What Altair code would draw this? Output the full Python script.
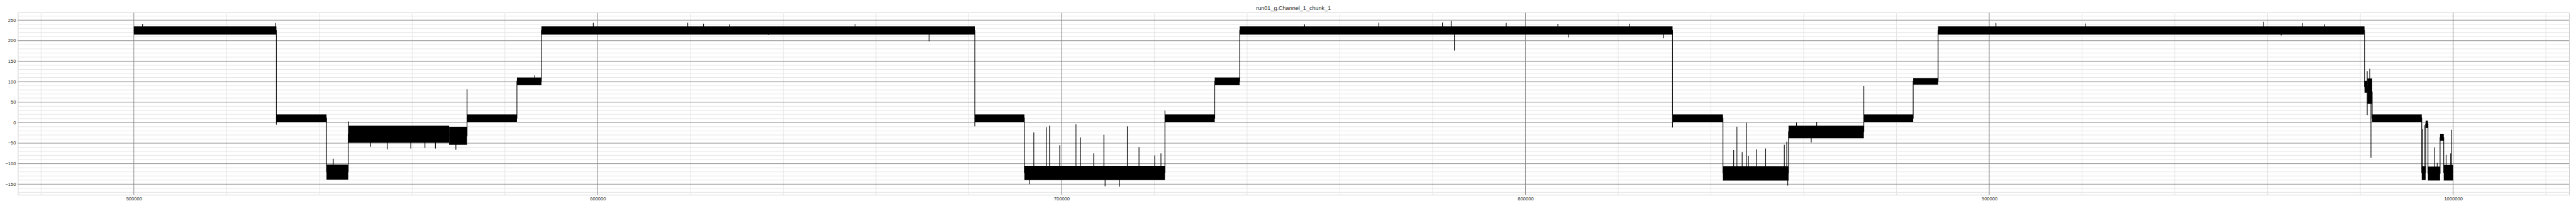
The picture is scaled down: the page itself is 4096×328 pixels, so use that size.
import altair as alt
import pandas as pd

# ---- segments of the signal (sample index, level band) ----
seg_start = [500000, 530730, 541540, 546220, 567970, 571840, 582590, 587870, 681300, 691990,
             722290, 733030, 738410, 831720, 842590, 856730, 872960, 883600, 888970, 980900,
             981500, 982550, 993240, 994070, 994580, 997190, 997980]
seg_end = [530730, 541540, 546220, 567970, 571840, 582590, 587870, 681300, 691990, 722290,
           733030, 738410, 831720, 842590, 856730, 872960, 883600, 888970, 980900, 981500,
           982550, 993240, 994070, 994580, 997190, 997980, 1000000]
seg_lo = [215, 2, -139, -49, -54, 2, 92, 215, 2, -140,
          2, 92, 215, 2, -141, -38, 2, 93, 215, 73,
          46, 2, -140, -13, -141, -44, -141]
seg_hi = [235, 20, -102, -7, -10, 20, 110, 235, 20, -105,
          20, 110, 235, 20, -106, -7, 20, 109, 235, 102,
          108, 20, -106, 5, -107, -27, -103]
seg_mid = [225, 11, -120, -28, -32, 11, 101, 225, 11, -122,
           11, 101, 225, 11, -123, -22, 11, 101, 225, 88,
           75, 11, -122, -3, -124, -36, -122]

# ---- isolated spikes (sample index, tip value, base level) ----
spike_x = [501880, 530520, 530730, 543000, 546300, 551050, 554650, 559700, 562760, 565020,
           569430, 571840, 586430, 599050, 619420, 622810, 628390, 636830, 655480, 671440,
           681300, 693110, 694020, 696770, 697410, 699610, 703110, 704130, 706930, 709130,
           709390, 712510, 714180, 716700, 720090, 721430, 722290, 752400, 768410, 782120,
           784000, 784700, 795870, 807000, 809260, 822420, 829790, 831720, 844900, 845600,
           846730, 847650, 848080, 849800, 851790, 855820, 856350, 856560, 858440, 861620,
           862800, 872960, 901440, 920700, 959120, 962930, 967510, 972280, 981480, 981480,
           982020, 982290, 993420, 993760, 995950, 996570, 998490, 999480, 999650]
spike_tip = [240.7, 243, -5, -88, 3, -59, -65, -63, -61.6, -63,
             -66, 81.4, 116, 243.8, 243.8, 241.5, 240, 213.6, 240.7, 198.4,
             -9, -150, -23.6, -10.8, -7, -55, -3.5, -36, -75, -29.5,
             -155, -156, -9, -59.6, -80, -75, 29.8, 240, 243.8, 244.6,
             248.4, 176, 243.4, 241, 208, 241.5, 205.8, -11.6, -67, -9.7,
             -72, 0, -80.6, -65, -63, -54, -46, -153.5, 0.8, -48,
             2, 89.5, 243, 242, 246, 212.8, 243, 240, 125.6, 18.5,
             131.4, -85.6, -15, -6, -60.5, -98, -78.7, -75, -17.4]
spike_base = [225, 225, 11, -120, -28, -28, -28, -28, -28, -28,
              -32, 11, 101, 225, 225, 225, 225, 225, 225, 225,
              11, -122, -122, -122, -122, -122, -122, -122, -122, -122,
              -122, -122, -122, -122, -122, -122, 11, 225, 225, 225,
              225, 225, 225, 225, 225, 225, 225, 11, -123, -123,
              -123, -123, -123, -123, -123, -123, -123, -123, -22, -22,
              -22, 11, 225, 225, 225, 225, 225, 225, 75, 75,
              75, 75, -122, -122, -122, -122, -122, -122, -122]

# ---- ticks / grid ----
x_major = [500000, 600000, 700000, 800000, 900000, 1000000]
x_minor = [480000, 520000, 540000, 560000, 580000, 620000, 640000, 660000, 680000,
           720000, 740000, 760000, 780000, 820000, 840000, 860000, 880000,
           920000, 940000, 960000, 980000, 1020000]
y_major = [-150, -100, -50, 0, 50, 100, 150, 200, 250]
y_minor = [-170, -160, -140, -130, -120, -110, -90, -80, -70, -60, -40, -30, -20, -10,
           10, 20, 30, 40, 60, 70, 80, 90, 110, 120, 130, 140, 160, 170, 180, 190,
           210, 220, 230, 240, 260]

TITLE = "run01_g.Channel_1_chunk_1"

S = 0.758
FONT = "Liberation Sans"
W, H = 4057, 290

xscale = alt.Scale(domain=[475000, 1025000], nice=False, zero=False)
yscale = alt.Scale(domain=[-175.6, 268.6], nice=False, zero=False)

xaxis = alt.Axis(values=x_major, format="d", title=None, grid=False, ticks=False,
                 domain=False, labelFontSize=10 * S, labelFont=FONT,
                 labelColor="#262626", labelPadding=3.5 * S, labelFlush=False)
yaxis = alt.Axis(values=y_major, format="d", title=None, grid=False, ticks=False,
                 domain=False, labelFontSize=10 * S, labelFont=FONT,
                 labelColor="#262626", labelPadding=4.5 * S, labelFlush=False)

seg_df = pd.DataFrame({"start": seg_start, "end": seg_end, "lo": seg_lo, "hi": seg_hi})
step_rows = []
for i, (a, b, m) in enumerate(zip(seg_start, seg_end, seg_mid)):
    step_rows.append({"x": a, "y": m, "o": 2 * i})
    step_rows.append({"x": b, "y": m, "o": 2 * i + 1})
step_df = pd.DataFrame(step_rows)
spike_df = pd.DataFrame({"x": spike_x, "tip": spike_tip, "base": spike_base})

minor_col = "#e5e5e5"
major_col = "#8a8a8a"
gw = 1.0

xminor = alt.Chart(pd.DataFrame({"v": x_minor})).mark_rule(color=minor_col, strokeWidth=gw).encode(
    x=alt.X("v:Q", scale=xscale, axis=xaxis))
yminor = alt.Chart(pd.DataFrame({"v": y_minor})).mark_rule(color=minor_col, strokeWidth=gw).encode(
    y=alt.Y("v:Q", scale=yscale, axis=yaxis))
xmajor = alt.Chart(pd.DataFrame({"v": x_major})).mark_rule(color=major_col, strokeWidth=gw).encode(
    x=alt.X("v:Q", scale=xscale, axis=xaxis))
ymajor = alt.Chart(pd.DataFrame({"v": y_major})).mark_rule(color=major_col, strokeWidth=gw).encode(
    y=alt.Y("v:Q", scale=yscale, axis=yaxis))

bands = alt.Chart(seg_df).mark_rect(color="black").encode(
    x=alt.X("start:Q", scale=xscale, axis=xaxis), x2="end:Q",
    y=alt.Y("lo:Q", scale=yscale, axis=yaxis), y2="hi:Q")
steps = alt.Chart(step_df).mark_line(color="black", strokeWidth=1.5 * S).encode(
    x=alt.X("x:Q", scale=xscale, axis=xaxis),
    y=alt.Y("y:Q", scale=yscale, axis=yaxis),
    order="o:Q")
spikes = alt.Chart(spike_df).mark_rule(color="black", strokeWidth=1.5 * S).encode(
    x=alt.X("x:Q", scale=xscale, axis=xaxis),
    y=alt.Y("tip:Q", scale=yscale, axis=yaxis), y2="base:Q")

title = alt.Chart(pd.DataFrame({"t": [TITLE]})).mark_text(
    font=FONT, fontSize=12 * S, color="#262626", align="center", baseline="alphabetic"
).encode(text="t:N", x=alt.value(W / 2), y=alt.value(-4.5))

chart = alt.layer(xminor, yminor, xmajor, ymajor, bands, steps, spikes, title).properties(
    width=W, height=H,
    autosize=alt.AutoSizeParams(type="none"),
    padding={"left": 20.4, "top": 12, "right": 3, "bottom": 12},
).configure_view(stroke="#cccccc", strokeWidth=1)

chart.save("out.html", embed_options={"renderer": "svg", "actions": False})
